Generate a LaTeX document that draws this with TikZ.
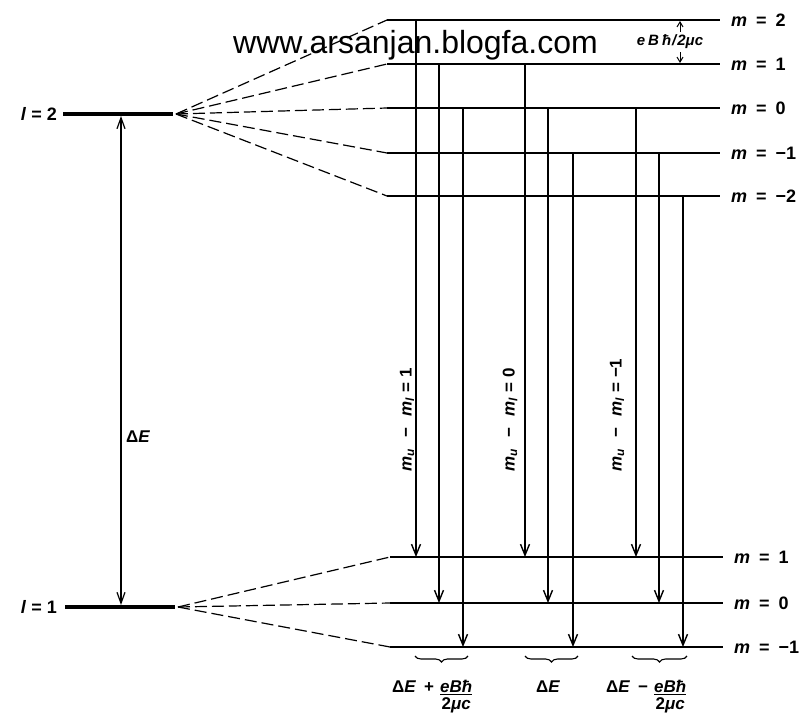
\documentclass[tikz,border=0pt]{standalone}
\usepackage{fontspec}
\setmainfont{Liberation Sans}
\usetikzlibrary{arrows.meta,decorations.pathreplacing}
\begin{document}
\begin{tikzpicture}[x=1pt,y=-1pt,
  level/.style={line width=2.2pt},
  llevel/.style={line width=4pt},
  fan/.style={dash pattern=on 12pt off 5pt, line width=1.2pt},
  trans/.style={line width=1.4pt, -{Straight Barb[length=11pt,width=9pt,line width=1.4pt]}},
  lab/.style={font=\fontsize{18}{18}\selectfont\bfseries, anchor=west, inner sep=0pt},
  rot/.style={font=\fontsize{17}{17}\selectfont\bfseries, rotate=90, anchor=west, inner sep=0pt},
  btm/.style={font=\fontsize{17}{17}\selectfont\bfseries, anchor=base west, inner sep=0pt},
  brc/.style={decorate, decoration={brace, mirror, amplitude=6pt}, line width=1.1pt},
]
\useasboundingbox (0,0) rectangle (801,715);

% watermark
\node[anchor=base west, inner sep=0pt, font=\fontsize{32}{32}\selectfont] (wm) at (233,53) {www.arsanjan.blogfa.com};

% l levels
\coordinate (L2a) at (63,114);  \coordinate (L2b) at (176,114);
\coordinate (L1a) at (65,607);  \coordinate (L1b) at (178,607);
\draw[llevel] (L2a) -- (173,114);
\draw[llevel] (L1a) -- (175,607);
\node[lab, anchor=east] (l2) at (57,114) {\textit{l}\hspace{5pt}=\hspace{5pt}2};
\node[lab, anchor=east] (l1) at (57,607) {\textit{l}\hspace{5pt}=\hspace{5pt}1};

% upper m levels
\foreach \n/\y/\t in {u2/20/2, u1/64/1, u0/108/0, um1/153/{\textminus 1}, um2/196/{\textminus 2}}{
  \coordinate (\n a) at (387,\y);
  \coordinate (\n b) at (720,\y);
  \draw[level] (\n a) -- (\n b);
  \draw[fan] (L2b) -- (\n a);
  \node[lab] (\n lab) at (731,\y) {\textit{m}\hspace{9pt}=\hspace{9pt}\t};
}
% lower m levels
\foreach \n/\y/\t in {d1/557/1, d0/603/0, dm1/647/{\textminus 1}}{
  \coordinate (\n a) at (390,\y);
  \coordinate (\n b) at (723,\y);
  \draw[level] (\n a) -- (\n b);
  \draw[fan] (L1b) -- (\n a);
  \node[lab] (\n lab) at (734,\y) {\textit{m}\hspace{9pt}=\hspace{9pt}\t};
}

% Delta E arrow
\coordinate (dEt) at (121,116);
\coordinate (dEb) at (121,605);
\draw[line width=1.2pt, {Straight Barb[length=11pt,width=8pt,line width=1.2pt]}-{Straight Barb[length=11pt,width=8pt,line width=1.2pt]}] (dEt) -- (dEb);
\node[font=\fontsize{17}{17}\selectfont\bfseries, inner sep=0pt, anchor=west] (dE) at (126,437) {Δ\textit{E}};

% transitions
\foreach \x/\ya/\yb in {416/20/557, 439/64/603, 463/108/647,
                         525/64/557, 548/108/603, 573/153/647,
                         636/108/557, 659/153/603, 683/196/647}{
  \coordinate (s\x) at (\x,\ya);
  \coordinate (e\x) at (\x,\yb);
  \draw[trans] (s\x) -- (e\x);
}

% rotated labels
\newcommand{\rotlab}[1]{\textit{m}\textsubscript{\textit{u}}\hspace{11pt}\textminus\hspace{11pt}\textit{m}\textsubscript{\textit{l}}\hspace{5pt}=\hspace{5pt}#1}
\node[rot] (r1) at (407,472) {\rotlab{1}};
\node[rot] (r2) at (510,472) {\rotlab{0}};
\node[rot] (r3) at (617,472) {\rotlab{\textminus 1}};

% splitting label
\coordinate (sp2) at (680,21);
\coordinate (sp1) at (680,63);
\coordinate (spa) at (680,32);
\coordinate (spb) at (680,52);
\draw[line width=1pt, -{Straight Barb[length=5pt,width=6pt]}] (spa) -- (sp2);
\draw[line width=1pt, -{Straight Barb[length=5pt,width=6pt]}] (spb) -- (sp1);
\node[font=\fontsize{15}{15}\selectfont\bfseries\itshape, inner sep=0pt] (spl) at (670,42) {e\hspace{3pt}B\hspace{3pt}ħ\hspace{1pt}/\hspace{1pt}2μc};

% braces
\coordinate (b1a) at (415,656); \coordinate (b1b) at (468,656);
\coordinate (b2a) at (525,656); \coordinate (b2b) at (578,656);
\coordinate (b3a) at (632,656); \coordinate (b3b) at (687,656);
\draw[brc] (b1a) -- (b1b);
\draw[brc] (b2a) -- (b2b);
\draw[brc] (b3a) -- (b3b);

% bottom labels
\node[btm] (g1) at (392,692) {Δ\textit{E}\hspace{8pt}+\hspace{6pt}\begin{tabular}[t]{@{}c@{}}\textit{eBħ}\\[-3pt]\hline\rule{0pt}{15pt}2\textit{μc}\end{tabular}};
\node[btm] (g2) at (536,692) {Δ\textit{E}};
\node[btm] (g3) at (606,692) {Δ\textit{E}\hspace{8pt}\textminus\hspace{6pt}\begin{tabular}[t]{@{}c@{}}\textit{eBħ}\\[-3pt]\hline\rule{0pt}{15pt}2\textit{μc}\end{tabular}};
\end{tikzpicture}
\end{document}
